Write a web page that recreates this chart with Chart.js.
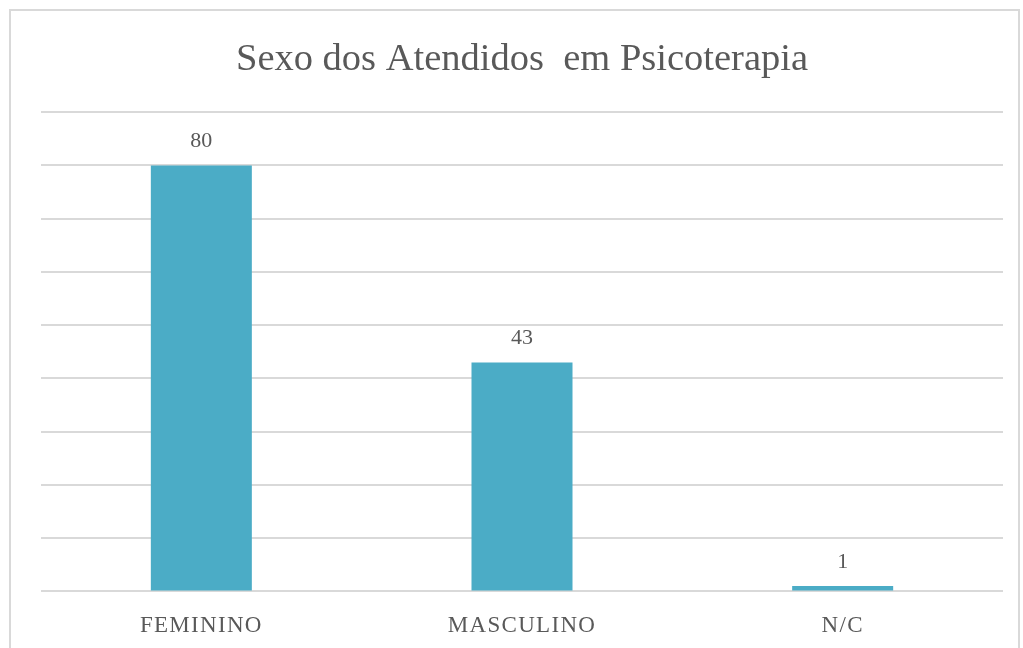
<!DOCTYPE html>
<html lang="pt-BR">
<head>
    <meta charset="UTF-8">
    <title>Sexo dos Atendidos em Psicoterapia</title>
    <style>
        * { margin: 0; padding: 0; box-sizing: border-box; }
        html, body { width: 1023px; height: 648px; overflow: hidden; background: #ffffff; }
        body { position: relative; }
        .moldura {
            position: absolute;
            left: 9px;
            top: 9px;
            width: 1011px;
            height: 700px;
            border: 2px solid #d9d9d9;
        }
        /* a área do gráfico passa um pouco da janela, a parte de baixo fica cortada */
        .grafico { position: absolute; left: 0; top: 0; width: 1023px; height: 661px; }
    </style>
    <script src="https://cdn.jsdelivr.net/npm/chart.js"></script>
</head>
<body>
    <div class="moldura"></div>
    <div class="grafico"><canvas id="graficoSexo"></canvas></div>
    <script>
        const categorias = ['FEMININO', 'MASCULINO', 'N/C'];
        const atendidos = [80, 43, 1];
        const eixoMin = 0;
        const eixoMax = 90;
        const eixoPasso = 10;

        const fonteSerif = "'Liberation Serif', 'Times New Roman', serif";
        const corTexto = '#595959';

        // rótulos de valor acima das barras
        const rotulosValor = {
            id: 'rotulosValor',
            afterDatasetsDraw(chart) {
                const ctx = chart.ctx;
                const meta = chart.getDatasetMeta(0);
                ctx.save();
                ctx.font = '22px ' + fonteSerif;
                ctx.fillStyle = corTexto;
                ctx.textAlign = 'center';
                ctx.textBaseline = 'alphabetic';
                meta.data.forEach((barra, i) => {
                    ctx.fillText(String(atendidos[i]), barra.x, barra.y - 18);
                });
                ctx.restore();
            }
        };

        // categorias do eixo x um pouco mais espaçadas, como no Excel
        const espacoCategorias = {
            id: 'espacoCategorias',
            afterLayout(chart) {
                const escala = chart.scales.x;
                if (escala._espacado) return;
                const original = escala.drawLabels.bind(escala);
                escala.drawLabels = function (area) {
                    const c = this.ctx;
                    c.save();
                    c.letterSpacing = '1.3px';
                    original(area);
                    c.restore();
                };
                escala._espacado = true;
            }
        };

        const ctx = document.getElementById('graficoSexo').getContext('2d');
        new Chart(ctx, {
            type: 'bar',
            data: {
                labels: categorias,
                datasets: [{
                    data: atendidos,
                    backgroundColor: '#4bacc6',
                    borderWidth: 0,
                    categoryPercentage: 1,
                    barPercentage: 0.315
                }]
            },
            options: {
                responsive: true,
                maintainAspectRatio: false,
                animation: false,
                layout: { padding: { left: 41, right: 20, top: 37, bottom: 0 } },
                plugins: {
                    legend: { display: false },
                    tooltip: { enabled: false },
                    title: {
                        display: true,
                        text: 'Sexo dos Atendidos  em Psicoterapia',
                        color: corTexto,
                        font: { family: fonteSerif, size: 38.5, weight: 'normal' },
                        padding: { top: 0, bottom: 29 }
                    }
                },
                scales: {
                    x: {
                        grid: { display: false, drawTicks: false },
                        border: { display: false },
                        ticks: {
                            color: corTexto,
                            padding: 21,
                            font: { family: fonteSerif, size: 23 }
                        }
                    },
                    y: {
                        min: eixoMin,
                        max: eixoMax,
                        ticks: { display: false, stepSize: eixoPasso },
                        grid: { color: '#d9d9d9', lineWidth: 2, drawTicks: false },
                        border: { display: false }
                    }
                }
            },
            plugins: [rotulosValor, espacoCategorias]
        });
    </script>
</body>
</html>
